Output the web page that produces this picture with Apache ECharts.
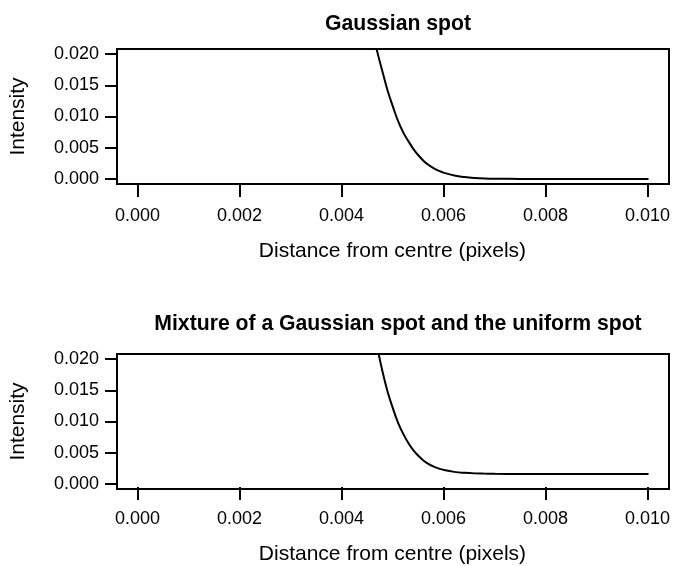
<!DOCTYPE html>
<html>
<head>
<meta charset="utf-8">
<script src="https://cdn.jsdelivr.net/npm/echarts@6/dist/echarts.min.js"></script>
<style>
html,body{margin:0;padding:0;background:#fff;}
#chart{width:673px;height:566px;}
</style>
</head>
<body>
<div id="chart"></div>
<script>
// ---- data ----
const panelTitles = ['Gaussian spot', 'Mixture of a Gaussian spot and the uniform spot'];
const xAxisName = 'Distance from centre (pixels)';
const yAxisName = 'Intensity';
const xTicks = [0.000, 0.002, 0.004, 0.006, 0.008, 0.010];
const yTicks = [0.000, 0.005, 0.010, 0.015, 0.020];

const distX = [0.0045, 0.0046, 0.0047, 0.0048, 0.0049, 0.0050, 0.0051, 0.0052, 0.0053, 0.0054,
               0.0055, 0.0056, 0.0057, 0.0058, 0.0059, 0.0060, 0.0062, 0.0064, 0.0066, 0.0068,
               0.0070, 0.0075, 0.0080, 0.0090, 0.0100];
const gaussY = [0.0280, 0.0237, 0.0201, 0.0170, 0.0140, 0.01154, 0.00926, 0.00746, 0.00606, 0.00479,
                0.00376, 0.00289, 0.00223, 0.00169, 0.00129, 0.00098, 0.00055, 0.00031, 0.00017, 0.00009,
                0.00005, 0.00001, 0, 0, 0];
const mixY = [0.0300, 0.0258, 0.0216, 0.0178, 0.0146, 0.01205, 0.00978, 0.00802, 0.00656, 0.00538,
              0.00447, 0.00373, 0.00319, 0.00277, 0.00246, 0.00223, 0.00194, 0.00179, 0.00170, 0.00166,
              0.00163, 0.00161, 0.0016, 0.0016, 0.0016];
const seriesY = [gaussY, mixY];

// ---- layout ----
const FONT = 'Liberation Sans, Arial, Helvetica, sans-serif';
const boxLeft = 117, boxWidth = 552, boxHeight = 135;
const panelTop = [49, 354];
const titleTop = [9, 309];
const xMin = xTicks[0], xMax = xTicks[xTicks.length - 1];
const yMin = yTicks[0], yMax = yTicks[yTicks.length - 1];
const xPad = (xMax - xMin) * 0.04, yPad = (yMax - yMin) * 0.04;
const dataLeft = boxLeft + boxWidth * (xPad / (xMax - xMin + 2 * xPad));
const dataWidth = boxWidth * ((xMax - xMin) / (xMax - xMin + 2 * xPad));
const dataOffY = boxHeight * (yPad / (yMax - yMin + 2 * yPad));
const dataHeight = boxHeight * ((yMax - yMin) / (yMax - yMin + 2 * yPad));

const grids = [], xAxes = [], yAxes = [], series = [], titles = [];
const fmt = v => v.toFixed(3);
const black = '#000';

panelTop.forEach((top, p) => {
  const g0 = grids.length;
  // grid A: framed box, holds the curve (R-style 4% extended range)
  grids.push({left: boxLeft, top: top, width: boxWidth, height: boxHeight, show: true,
              borderColor: black, borderWidth: 2, backgroundColor: 'transparent', containLabel: false});
  xAxes.push({gridIndex: g0, type: 'value', min: xMin - xPad, max: xMax + xPad, show: false});
  yAxes.push({gridIndex: g0, type: 'value', min: yMin - yPad, max: yMax + yPad, show: false});
  // grid B: x ticks / labels
  grids.push({left: dataLeft, top: top, width: dataWidth, height: boxHeight});
  xAxes.push({gridIndex: g0 + 1, type: 'value', position: 'bottom', min: xMin, max: xMax,
              interval: xTicks[1] - xTicks[0],
              axisLine: {show: false, onZero: false},
              axisTick: {show: true, inside: false, length: 13, lineStyle: {color: black, width: 2}},
              axisLabel: {show: true, margin: 23, formatter: fmt, color: black, fontSize: 18, fontFamily: FONT},
              splitLine: {show: false},
              name: xAxisName, nameLocation: 'middle', nameGap: 57,
              nameTextStyle: {color: black, fontSize: 21, fontFamily: FONT}});
  yAxes.push({gridIndex: g0 + 1, type: 'value', show: false, min: 0, max: 1});
  // grid C: y ticks / labels
  grids.push({left: boxLeft, top: top + dataOffY, width: boxWidth, height: dataHeight});
  xAxes.push({gridIndex: g0 + 2, type: 'value', show: false, min: 0, max: 1});
  yAxes.push({gridIndex: g0 + 2, type: 'value', position: 'left', min: yMin, max: yMax,
              interval: yTicks[1] - yTicks[0],
              axisLine: {show: false, onZero: false},
              axisTick: {show: true, inside: false, length: 12, lineStyle: {color: black, width: 2}},
              axisLabel: {show: true, margin: 18, formatter: fmt, color: black, fontSize: 18, fontFamily: FONT},
              splitLine: {show: false},
              name: yAxisName, nameLocation: 'middle', nameGap: 88,
              nameTextStyle: {color: black, fontSize: 21, fontFamily: FONT}});
  series.push({type: 'line', xAxisIndex: g0, yAxisIndex: g0,
               data: distX.map((x, i) => [x, seriesY[p][i]]),
               showSymbol: false, symbol: 'none', smooth: 0.4, clip: true,
               lineStyle: {color: black, width: 2}, animation: false});
  titles.push({text: panelTitles[p], left: boxLeft + boxWidth / 2, textAlign: 'center', top: titleTop[p],
               textStyle: {color: black, fontSize: 21.2, fontWeight: 'bold', fontFamily: FONT}});
});

const chart = echarts.init(document.getElementById('chart'), null, {renderer: 'canvas'});
chart.setOption({
  animation: false,
  backgroundColor: '#fff',
  title: titles,
  grid: grids,
  xAxis: xAxes,
  yAxis: yAxes,
  series: series
});
</script>
</body>
</html>
